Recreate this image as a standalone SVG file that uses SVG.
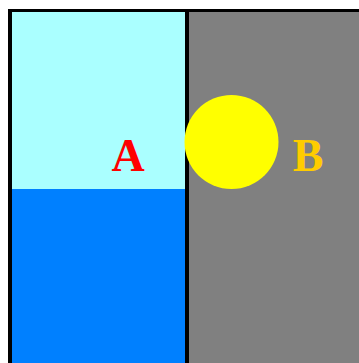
<svg xmlns="http://www.w3.org/2000/svg" width="359" height="363" viewBox="0 0 359 363">
<style>
.lbl{font-family:"Liberation Serif","Times New Roman",serif;font-weight:bold;font-size:46px;text-anchor:middle}
</style>
<rect x="0" y="0" width="359" height="363" fill="#ffffff"/>
<g id="tankA">
<rect x="12" y="12" width="173" height="177" fill="#aaffff"/>
<rect x="12" y="189" width="173" height="174" fill="#0080ff"/>
</g>
<g id="tankB">
<rect x="189" y="12" width="170" height="351" fill="#808080"/>
</g>
<g id="walls">
<rect x="8" y="9" width="351" height="3" fill="#000000"/>
<rect x="8" y="9" width="4" height="354" fill="#000000"/>
<rect x="185" y="9" width="4" height="354" fill="#000000"/>
</g>
<g id="ball">
<circle cx="231.5" cy="142" r="47" fill="#ffff00"/>
</g>
<text class="lbl" x="128" y="171" fill="#ff0000">A</text>
<text class="lbl" x="308" y="171" fill="#ffcc00">B</text>
</svg>
